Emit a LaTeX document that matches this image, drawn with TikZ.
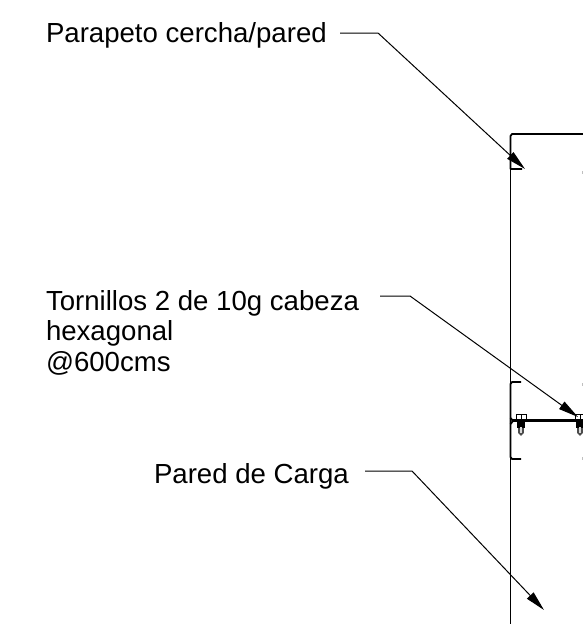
\documentclass[tikz,border=0pt]{standalone}
\usepackage{fontspec}
\setmainfont{Liberation Sans}
\usetikzlibrary{arrows.meta}
\tikzset{
  lbl/.style={inner sep=0pt,outer sep=0pt,anchor=base west,align=left,font=\fontsize{27.6}{30.5}\selectfont},
  leader/.style={line width=1pt,-{Triangle[length=20pt,width=9pt]}},
  wall/.style={line width=1.1pt},
  heavy/.style={line width=1.8pt}
}
\newcommand{\screw}[1]{%
  \begin{scope}[shift={(#1,0)}]
    \draw[line width=0.9pt] (-5,420) -- (-5,414) -- (5,414) -- (5,420);
    \draw[line width=0.7pt] (0,414) -- (0,420);
    \fill (-4,421) rectangle (4,428);
    \fill[black!70] (-2.8,428) -- (-2.8,433) -- (0,436) -- (2.8,433) -- (2.8,428) -- cycle;
    \fill[black!15] (-0.6,427) rectangle (0.6,433);
  \end{scope}}
\begin{document}
\begin{tikzpicture}[x=1pt,y=-1pt]
\useasboundingbox (0,0) rectangle (583,624);
\clip (0,0) rectangle (583,624);
\node[lbl] (t1) at (46,42) {Parapeto cercha/pared};
\node[lbl] (t2) at (46,371) {Tornillos 2 de 10g cabeza\\hexagonal\\@600cms};
\node[lbl] (t3) at (154,483) {Pared de Carga};
\coordinate (a1) at (340,33); \coordinate (b1) at (378,33); \coordinate (c1) at (525,169);
\coordinate (a2) at (380,296); \coordinate (b2) at (410,296); \coordinate (c2) at (578,417);
\coordinate (a3) at (365,471); \coordinate (b3) at (412,471); \coordinate (c3) at (544,610);
\draw[leader] (a1) -- (b1) -- (c1);
\draw[leader] (a2) -- (b2) -- (c2);
\draw[leader] (a3) -- (b3) -- (c3);
% wall
\draw[wall] (510.5,169) -- (510.5,624);
\draw[heavy,line join=round] (583,134) -- (512,134) -- (510.5,136) -- (510.5,169) -- (522,169);
\draw[heavy,line join=round] (521,382) -- (512,382) -- (510.5,384) -- (510.5,457) -- (512,459) -- (521,459);
\draw[line width=2.4pt] (512,420.5) -- (583,420.5);
\draw[heavy] (510.5,418) -- (513,421) -- (510.5,424);
\screw{521}
\screw{580}
\fill[black!25] (582,171) rectangle (583,174);
\fill[black!25] (582,383) rectangle (583,386);
\fill[black!25] (582,457) rectangle (583,460);
\end{tikzpicture}
\end{document}
